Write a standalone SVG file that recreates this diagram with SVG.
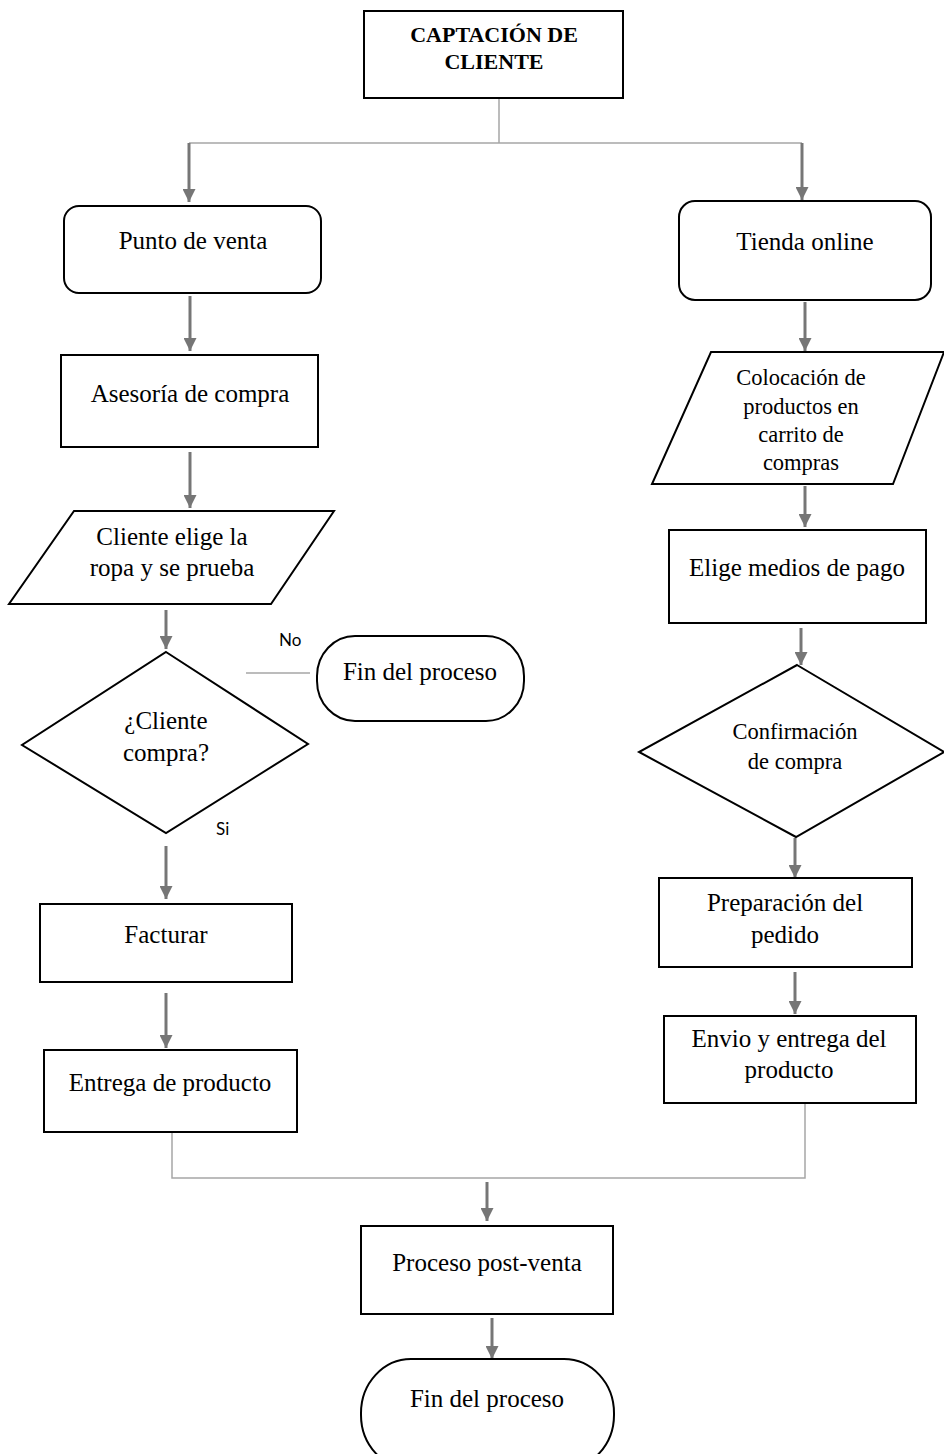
<svg xmlns="http://www.w3.org/2000/svg" width="944" height="1454" viewBox="0 0 944 1454">
<defs>
<marker id="ah" markerUnits="userSpaceOnUse" markerWidth="13" markerHeight="13" refX="13" refY="6.5" orient="auto">
<path d="M0,0 L13,6.5 L0,13 z" fill="#767676"/>
</marker>
<style>
.n{fill:#fff;stroke:#000;stroke-width:2}
.t{font-family:"Liberation Serif","Times New Roman",serif;font-size:25px;fill:#000;text-anchor:middle}
.ts{font-family:"Liberation Serif","Times New Roman",serif;font-size:22.5px;fill:#000;text-anchor:middle}
.tb{font-family:"Liberation Serif","Times New Roman",serif;font-size:22px;font-weight:bold;fill:#000;text-anchor:middle}
.lab{font-family:Lato,"Open Sans",sans-serif;font-size:17px;fill:#000}
.a{stroke:#767676;stroke-width:3;fill:none;marker-end:url(#ah)}
.l{stroke:#a6a6a6;stroke-width:1.5;fill:none}
</style>
</defs>
<rect width="944" height="1454" fill="#fff"/>
<g id="connectors">
<path class="l" d="M499,98 V143 M189,143 H802 M172,1132 V1178 H805 V1103 M246,673 H310"/>
<line class="a" x1="189" y1="143" x2="189" y2="202"/>
<line class="a" x1="802" y1="143" x2="802" y2="200"/>
<line class="a" x1="190" y1="296" x2="190" y2="351"/>
<line class="a" x1="805" y1="302" x2="805" y2="351"/>
<line class="a" x1="190" y1="452" x2="190" y2="508"/>
<line class="a" x1="805" y1="486" x2="805" y2="527"/>
<line class="a" x1="166" y1="610" x2="166" y2="649"/>
<line class="a" x1="801" y1="628" x2="801" y2="665"/>
<line class="a" x1="166" y1="846" x2="166" y2="899"/>
<line class="a" x1="795" y1="838" x2="795" y2="878"/>
<line class="a" x1="166" y1="993" x2="166" y2="1048"/>
<line class="a" x1="795" y1="972" x2="795" y2="1014"/>
<line class="a" x1="487" y1="1182" x2="487" y2="1221"/>
<line class="a" x1="492" y1="1318" x2="492" y2="1359"/>
<text class="lab" x="279" y="646">No</text>
<text class="lab" x="216" y="835">Si</text>
</g>
<g id="captacion">
<rect class="n" x="364" y="11" width="259" height="87"/>
<text class="tb" x="494" y="42">CAPTACIÓN DE</text>
<text class="tb" x="494" y="69">CLIENTE</text>
</g>
<g id="punto-venta">
<rect class="n" x="64" y="206" width="257" height="87" rx="15"/>
<text class="t" x="193" y="249">Punto de venta</text>
</g>
<g id="tienda-online">
<rect class="n" x="679" y="201" width="252" height="99" rx="16"/>
<text class="t" x="805" y="250">Tienda online</text>
</g>
<g id="asesoria">
<rect class="n" x="61" y="355" width="257" height="92"/>
<text class="t" x="190" y="402">Asesoría de compra</text>
</g>
<g id="cliente-elige">
<polygon class="n" points="74,511 334,511 271,604 9,604"/>
<text class="t" x="172" y="545">Cliente elige la</text>
<text class="t" x="172" y="576">ropa y se prueba</text>
</g>
<g id="cliente-compra">
<polygon class="n" points="166,652 308,744 166,833 22,745"/>
<text class="t" x="166" y="729">¿Cliente</text>
<text class="t" x="166" y="761">compra?</text>
</g>
<g id="fin-proceso-1">
<rect class="n" x="317" y="636" width="207" height="85" rx="38" ry="40"/>
<text class="t" x="420" y="680">Fin del proceso</text>
</g>
<g id="facturar">
<rect class="n" x="40" y="904" width="252" height="78"/>
<text class="t" x="166" y="943">Facturar</text>
</g>
<g id="entrega-producto">
<rect class="n" x="44" y="1050" width="253" height="82"/>
<text class="t" x="170" y="1091">Entrega de producto</text>
</g>
<g id="colocacion">
<polygon class="n" points="711,352 944,352 893,484 652,484"/>
<text class="ts" x="801" y="385">Colocación de</text>
<text class="ts" x="801" y="414">productos en</text>
<text class="ts" x="801" y="442">carrito de</text>
<text class="ts" x="801" y="470">compras</text>
</g>
<g id="elige-medios">
<rect class="n" x="669" y="530" width="257" height="93"/>
<text class="t" x="797" y="576">Elige medios de pago</text>
</g>
<g id="confirmacion">
<polygon class="n" points="797,665 944,752 796,837 639,752"/>
<text class="ts" x="795" y="739">Confirmación</text>
<text class="ts" x="795" y="769">de compra</text>
</g>
<g id="preparacion">
<rect class="n" x="659" y="878" width="253" height="89"/>
<text class="t" x="785" y="911">Preparación del</text>
<text class="t" x="785" y="943">pedido</text>
</g>
<g id="envio">
<rect class="n" x="664" y="1016" width="252" height="87"/>
<text class="t" x="789" y="1047">Envio y entrega del</text>
<text class="t" x="789" y="1078">producto</text>
</g>
<g id="post-venta">
<rect class="n" x="361" y="1226" width="252" height="88"/>
<text class="t" x="487" y="1271">Proceso post-venta</text>
</g>
<g id="fin-proceso-2">
<rect class="n" x="361" y="1359" width="253" height="110" rx="50" ry="54"/>
<text class="t" x="487" y="1407">Fin del proceso</text>
</g>
</svg>
